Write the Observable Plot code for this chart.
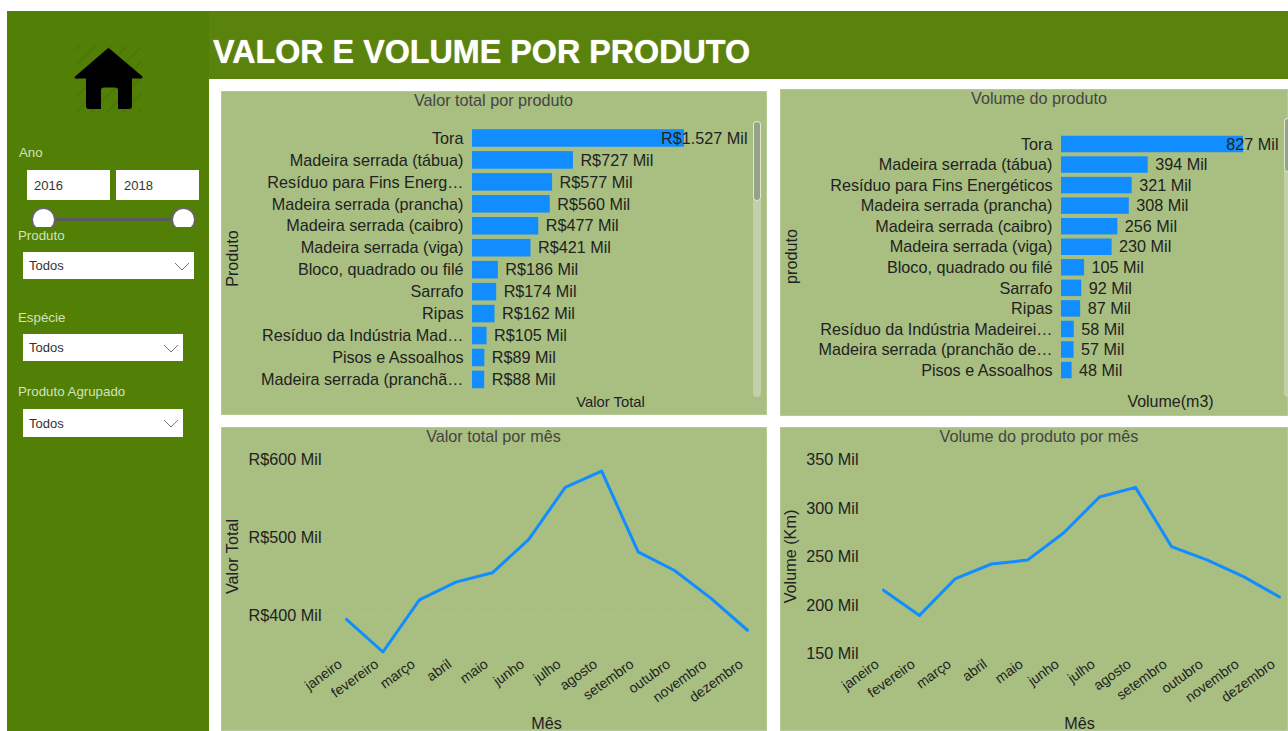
<!DOCTYPE html>
<html><head><meta charset="utf-8">
<script src="https://cdn.jsdelivr.net/npm/d3@7"></script>
<script src="https://cdn.jsdelivr.net/npm/@observablehq/plot@0.6"></script>
<style>
html,body{margin:0;padding:0;background:#fff;overflow:hidden}
body{font-family:"Liberation Sans",Arial,sans-serif}
#root{position:relative;width:1288px;height:731px;overflow:hidden;background:#fff}
.abs{position:absolute}
.panel{position:absolute;background:#a8bf81;box-shadow:inset 0 0 0 1px #b4c993}
.panel svg{position:absolute;left:0;top:0;background:transparent;overflow:hidden}
.ptitle{position:absolute;left:0;right:0;text-align:center;font-size:16.2px;line-height:18px;color:#444;white-space:nowrap;z-index:2}
.side{position:absolute;font-size:13.3px;color:#d5e2bd;white-space:nowrap}
.box{position:absolute;background:#fff;font-size:13px;color:#333;line-height:1;display:flex;align-items:center;box-sizing:border-box;padding-left:6px}
.box svg{position:absolute;right:4px;top:50%;margin-top:-4px}
</style></head>
<body><div id="root"></div>
<script>
const valorProdutos = ["Tora","Madeira serrada (tábua)","Resíduo para Fins Energ…","Madeira serrada (prancha)","Madeira serrada (caibro)","Madeira serrada (viga)","Bloco, quadrado ou filé","Sarrafo","Ripas","Resíduo da Indústria Mad…","Pisos e Assoalhos","Madeira serrada (pranchã…"];
const valorTotais = [1527,727,577,560,477,421,186,174,162,105,89,88];
const volumeProdutos = ["Tora","Madeira serrada (tábua)","Resíduo para Fins Energéticos","Madeira serrada (prancha)","Madeira serrada (caibro)","Madeira serrada (viga)","Bloco, quadrado ou filé","Sarrafo","Ripas","Resíduo da Indústria Madeirei…","Madeira serrada (pranchão de…","Pisos e Assoalhos"];
const volumeTotais = [827,394,321,308,256,230,105,92,87,58,57,48];
const meses = ["janeiro","fevereiro","março","abril","maio","junho","julho","agosto","setembro","outubro","novembro","dezembro"];
const valorMes = [395,353,420,443,455,498,565,586,482,458,422,381];
const volumeMes = [216,190,228,243,247,275,312,322,261,247,230,209];
const valorTicks = [400,500,600];
const volumeTicks = [150,200,250,300,350];

const fontFamily = '"Liberation Sans",Arial,sans-serif';
const blue = "#118dff", ink = "#222";
const fmtN = d => d3.format(",")(d).replace(/,/g,".");
const root = document.getElementById("root");

function el(cls, css, html){const d=document.createElement("div");d.className=cls;d.style.cssText=css;if(html!=null)d.innerHTML=html;root.appendChild(d);return d}

// --- sidebar + header
el("abs","left:7px;top:11px;width:202px;height:720px;background:#527f05");
el("abs","left:209px;top:11px;width:1079px;height:68px;background:#5a830e");
el("abs","left:213px;top:33px;font-size:32.3px;font-weight:bold;color:#fff;line-height:38px;white-space:nowrap;text-shadow:0 0 1px #f4f0c8","VALOR E VOLUME POR PRODUTO");
el("abs","left:0;top:0",`<svg width="209" height="120" style="display:block">
<defs><pattern id="hatch" width="11" height="11" patternUnits="userSpaceOnUse" patternTransform="rotate(45)"><rect width="2" height="11" fill="#4a7604"/></pattern></defs>
<rect x="76" y="46" width="66" height="66" fill="url(#hatch)" opacity="0.7"/>
<path d="M107 49 Q108.500 47.500 110 49 L142.500 76.500 Q143 78.500 141 78.500 L132 78.500 L132 106 Q132 109 129 109 L118 109 L118 90 Q118 87.500 115 87.500 L104 87.500 Q101 87.500 101 90 L101 109 L89 109 Q86 109 86 106 L86 78.500 L76 78.500 Q74 78.500 75 76.500 Z" fill="#000"/></svg>`);

el("side","left:19px;top:145px","Ano");
el("box","left:27px;top:170px;width:83px;height:30px;padding-left:7px","2016");
el("box","left:116px;top:170px;width:83px;height:30px;padding-left:8px","2018");
el("abs","left:55px;top:218px;width:118px;height:3px;background:#5c5c5c");
for (const x of [31,171]) {
  const w = el("abs",`left:${x}px;top:207px;width:25px;height:20px;overflow:hidden`);
  w.innerHTML = '<div style="width:21px;height:21px;border-radius:50%;background:#fff;border:2px solid #666;box-sizing:content-box"></div>';
}
const chev = '<svg width="16" height="9"><path d="M1 1 L8 8 L15 1" fill="none" stroke="#777" stroke-width="1"/></svg>';
el("side","left:18px;top:228px","Produto");
el("box","left:23px;top:252px;width:171px;height:27px","Todos"+chev);
el("side","left:18px;top:310px","Espécie");
el("box","left:23px;top:334px;width:160px;height:27px","Todos"+chev);
el("side","left:18px;top:384px","Produto Agrupado");
el("box","left:23px;top:409px;width:160px;height:28px","Todos"+chev);

// --- panels
function panel(left, top, width, height, title, shift){
  const p = document.createElement("div");
  p.className = "panel";
  p.style.cssText = `left:${left}px;top:${top}px;width:${width}px;height:${height}px`;
  const t = document.createElement("div");
  t.className = "ptitle"; t.style.top = "0px"; t.style.left = shift + "px"; t.textContent = title;
  p.appendChild(t); root.appendChild(p); return p;
}
function barChart(p, cfg){
  const rows = cfg.names.map((n,i)=>({n, v:cfg.values[i]}));
  p.appendChild(Plot.plot({
    width: cfg.w, height: cfg.h,
    marginLeft: cfg.ml, marginRight: cfg.mr, marginTop: cfg.mt, marginBottom: cfg.mb,
    style:{fontFamily, fontSize:"16.2px", color:ink, background:"transparent"},
    x:{domain:[0,cfg.values[0]], range:cfg.xr, axis:null},
    y:{domain:cfg.names, range:cfg.yr, padding:0.2, round:false, axis:null},
    marks:[
      Plot.barX(rows,{y:"n",x:"v",fill:blue}),
      Plot.axisY({tickSize:0,tickPadding:9,label:cfg.ylabel,labelAnchor:"center",labelArrow:"none",labelOffset:cfg.ylo,fill:ink,tickFormat:d=>d}),
      Plot.axisX([], {label:cfg.xlabel,labelAnchor:"center",labelArrow:"none",labelOffset:cfg.xlo,fontSize:cfg.xfs}),
      Plot.text(rows.slice(1),{y:"n",x:"v",text:d=>cfg.fmt(d.v),dx:7,textAnchor:"start",fill:ink}),
      Plot.text(rows.slice(0,1),{y:"n",x:"v",text:d=>cfg.fmt(d.v),dx:cfg.firstDx,textAnchor:"end",fill:ink})
    ]
  }));
}
function lineChart(p, cfg){
  const rows = meses.map((m,i)=>({m, v:cfg.values[i]}));
  p.appendChild(Plot.plot({
    width: cfg.w, height: cfg.h,
    marginLeft: cfg.ml, marginRight: cfg.mr, marginTop: 28, marginBottom: 74,
    style:{fontFamily, fontSize:"16.2px", color:ink, background:"transparent"},
    x:{type:"point", domain:meses, range:cfg.xr, padding:0, round:false, axis:null},
    y:{domain:cfg.yd, range:cfg.yr, axis:null},
    marks:[
      Plot.gridY(cfg.ticks,{stroke:"#c4d4a8",strokeOpacity:0.6,strokeWidth:1,strokeDasharray:"1,4"}),
      Plot.axisY(cfg.ticks,{tickSize:0,tickPadding:cfg.ypad,tickFormat:cfg.fmt,label:cfg.ylabel,labelAnchor:"center",labelArrow:"none",labelOffset:cfg.ylo,fill:ink}),
      Plot.axisX({tickSize:0,tickPadding:3,tickRotate:-36,fontSize:14,label:null,fill:ink,tickFormat:d=>d,dx:-6,dy:2}),
      Plot.axisX([], {label:"Mês",labelAnchor:"center",labelArrow:"none",labelOffset:71,fill:ink}),
      Plot.line(rows,{x:"m",y:"v",stroke:blue,strokeWidth:3,curve:"linear"})
    ]
  }));
}

const p1 = panel(221,91,546,324,"Valor total por produto",-1);
barChart(p1,{w:546,h:324,ml:251,mr:19,mt:35,mb:25,xr:[251,463],yr:[33.8,301.6],names:valorProdutos,values:valorTotais,ylabel:"Produto",ylo:246,xlabel:"Valor Total",xlo:16,xfs:14.8,firstDx:63,fmt:v=>`R$${fmtN(v)} Mil`});
el("abs","left:753px;top:121px;width:8px;height:276px;border-radius:4px;background:#c3d1ab");
el("abs","left:753px;top:121px;width:8px;height:80px;border-radius:4px;background:#98a286;box-shadow:0 0 0 1px #dfe6d2 inset");

const p2 = panel(780,89,508,327,"Volume do produto",10);
barChart(p2,{w:508,h:327,ml:281,mr:9,mt:37,mb:30,xr:[281,463],yr:[42.67,293.4],names:volumeProdutos,values:volumeTotais,ylabel:"produto",ylo:276,xlabel:"Volume(m3)",xlo:20,xfs:16,firstDx:35,fmt:v=>`${fmtN(v)} Mil`});
el("abs","left:1284px;top:118px;width:8px;height:279px;border-radius:4px;background:#c3d1ab");
el("abs","left:1284px;top:118px;width:8px;height:54px;border-radius:4px;background:#98a286;box-shadow:0 0 0 1px #dfe6d2 inset");

const p3 = panel(221,427,546,304,"Valor total por mês",-1);
lineChart(p3,{w:546,h:304,ml:109,mr:5,xr:[125,526],yd:[400,600],yr:[188,32.700],ticks:valorTicks,ypad:9,fmt:d=>`R$${d} Mil`,ylabel:"Valor Total",ylo:104,values:valorMes});

const p4 = panel(780,427,508,304,"Volume do produto por mês",10);
lineChart(p4,{w:508,h:304,ml:90,mr:0,xr:[103,499],yd:[150,350],yr:[226.700,32.700],ticks:volumeTicks,ypad:12,fmt:d=>`${d} Mil`,ylabel:"Volume (Km)",ylo:86,values:volumeMes});
</script>
</body></html>
